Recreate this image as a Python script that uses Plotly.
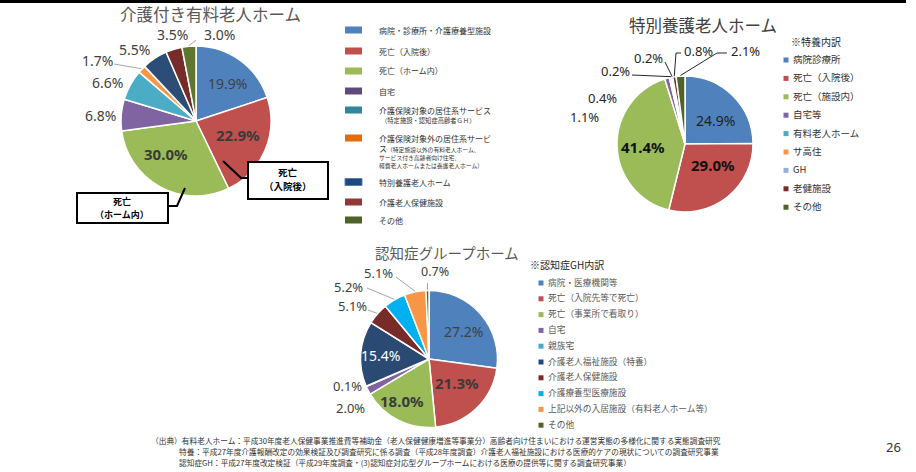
import math
import plotly.graph_objects as go

W, H = 916, 472
JP = "Noto Sans CJK JP"
NUM = "Noto Sans"

# ---------------- data ----------------
pie1_title = "介護付き有料老人ホーム"
pie1_labels = ["病院・診療所・介護療養型施設", "死亡（入院後）", "死亡（ホーム内）", "自宅",
               "介護保険対象の居住系サービス", "介護保険対象外の居住系サービス",
               "特別養護老人ホーム", "介護老人保健施設", "その他"]
pie1_values = [19.9, 22.9, 30.0, 6.8, 6.6, 1.7, 5.5, 3.5, 3.0]
pie1_colors = ["#4F81BD", "#C0504D", "#9BBB59", "#8064A2", "#4BACC6", "#F79646",
               "#2C4D75", "#772C2A", "#5F7530"]
leg1_colors = ["#4F81BD", "#C0504D", "#9BBB59", "#604A7B", "#31859C", "#E46C0A",
               "#1F497D", "#953735", "#4F6228"]

pie2_title = "特別養護老人ホーム"
pie2_legend_title = "※特養内訳"
pie2_labels = ["病院診療所", "死亡（入院後）", "死亡（施設内）", "自宅等", "有料老人ホーム",
               "サ高住", "GH", "老健施設", "その他"]
pie2_values = [24.9, 29.0, 41.4, 1.1, 0.4, 0.2, 0.2, 0.8, 2.1]
pie2_colors = ["#4F81BD", "#C0504D", "#9BBB59", "#8064A2", "#4BACC6", "#F79646",
               "#95B3D7", "#772C2A", "#4F6228"]

pie3_title = "認知症グループホーム"
pie3_legend_title = "※認知症GH内訳"
pie3_labels = ["病院・医療機関等", "死亡（入院先等で死亡）", "死亡（事業所で看取り）", "自宅", "親族宅",
               "介護老人福祉施設（特養）", "介護老人保健施設", "介護療養型医療施設",
               "上記以外の入居施設（有料老人ホーム等）", "その他"]
pie3_values = [27.2, 21.3, 18.0, 2.0, 0.1, 15.4, 5.1, 5.2, 5.1, 0.7]
pie3_colors = ["#4F81BD", "#C0504D", "#9BBB59", "#8064A2", "#4BACC6", "#2A4A73",
               "#772C2A", "#00B0F0", "#F79646", "#4F6228"]

footer_lines = [
    "（出典）有料老人ホーム：平成30年度老人保健事業推進費等補助金（老人保健健康増進等事業分）高齢者向け住まいにおける運営実態の多様化に関する実態調査研究",
    "特養：平成27年度介護報酬改定の効果検証及び調査研究に係る調査（平成28年度調査）介護老人福祉施設における医療的ケアの現状についての調査研究事業",
    "認知症GH：平成27年度改定検証（平成29年度調査・(3)認知症対応型グループホームにおける医療の提供等に関する調査研究事業）",
]
page_number = "26"

# ---------------- layout / style ----------------
pie1_geo = (196, 121, 75)
pie2_geo = (685, 144, 68)
pie3_geo = (429, 359, 68.5)

# label positions (px) and styles: (x, y, size, bold, color)
pie1_lab = [(227, 84, 14, False, "#404040"), (238, 135, 15, True, "#3A3A3A"),
            (166, 154, 15, True, "#3A3A3A"), (100, 115, 14, False, "#404040"),
            (107, 83, 14, False, "#404040"), (97, 60, 14, False, "#404040"),
            (134, 50, 14, False, "#404040"), (172, 34, 14, False, "#404040"),
            (219, 34, 14, False, "#404040")]
pie1_lead = {5: [(114, 64)], 8: [(196, 40)]}

pie2_lab = [(715, 120, 14, False, "#1F1F1F"), (713, 165, 15, True, "#111111"),
            (643, 147, 15, True, "#111111"), (584, 117, 13, False, "#262626"),
            (602, 98, 13, False, "#262626"), (615, 71, 13, False, "#262626"),
            (648, 58, 13, False, "#262626"), (698, 51, 13, False, "#262626"),
            (745, 51, 13, False, "#262626")]
pie2_lead = {5: [(632, 75)], 6: [(665, 62)], 7: [(681, 53), (676, 53)], 8: [(727, 53), (717, 53)]}

pie3_lab = [(463, 331, 14, False, "#404040"), (457, 383, 15, True, "#3A3A3A"),
            (402, 401, 15, True, "#3A3A3A"), (350, 408, 13, False, "#404040"),
            (347, 386, 13, False, "#404040"), (380, 355, 14, False, "#FFFFFF"),
            (352, 306, 13, False, "#404040"), (348, 287, 13, False, "#404040"),
            (378, 273, 13, False, "#404040"), (435, 271, 12.5, False, "#404040")]
pie3_lead = {6: [(368, 310)], 7: [(367, 288)], 8: [(396, 277)], 9: [(427.4, 283)]}

shapes, annotations = [], []


def X(x):
    return x / W


def Y(y):
    return 1 - y / H


def text(x, y, t, size, color, family=JP, bold=False, xanchor="center"):
    annotations.append(dict(x=X(x), y=Y(y), xref="paper", yref="paper",
                            text=f"<b>{t}</b>" if bold else t, showarrow=False,
                            font=dict(size=size, color=color, family=family),
                            xanchor=xanchor, yanchor="middle", borderpad=0))


def line(points, color, width):
    path = "M " + " L ".join(f"{X(px)},{Y(py)}" for px, py in points)
    shapes.append(dict(type="path", path=path, xref="paper", yref="paper",
                       line=dict(color=color, width=width)))


def rect(x0, y0, x1, y1, fill, lc=None, lw=0):
    shapes.append(dict(type="rect", xref="paper", yref="paper", x0=X(x0), x1=X(x1),
                       y0=Y(y1), y1=Y(y0), fillcolor=fill,
                       line=dict(color=lc or fill, width=lw)))


def slice_pt(values, i, geo, rf=1.0):
    cx, cy, r = geo
    ang = 360 * (sum(values[:i]) + values[i] / 2) / sum(values)
    a = math.radians(ang)
    return cx + rf * r * math.sin(a), cy - rf * r * math.cos(a)


def dom(geo):
    cx, cy, r = geo
    return dict(x=[X(cx - r), X(cx + r)], y=[Y(cy + r), Y(cy - r)])


fig = go.Figure()
for labels, values, colors, geo in [(pie1_labels, pie1_values, pie1_colors, pie1_geo),
                                    (pie2_labels, pie2_values, pie2_colors, pie2_geo),
                                    (pie3_labels, pie3_values, pie3_colors, pie3_geo)]:
    fig.add_trace(go.Pie(labels=labels, values=values, sort=False, direction="clockwise",
                         rotation=0, textinfo="none", showlegend=False,
                         marker=dict(colors=colors, line=dict(color="white", width=1.5)),
                         domain=dom(geo), hoverinfo="label+percent"))

# percentage labels + leader lines
for values, labs, leads, geo, lc in [(pie1_values, pie1_lab, pie1_lead, pie1_geo, "#A6A6A6"),
                                     (pie2_values, pie2_lab, pie2_lead, pie2_geo, "#262626"),
                                     (pie3_values, pie3_lab, pie3_lead, pie3_geo, "#A6A6A6")]:
    for i, v in enumerate(values):
        x, y, s, b, c = labs[i]
        text(x, y, f"{v:.1f}%", s, c, family=NUM, bold=b)
    for i, pts in leads.items():
        line(pts + [slice_pt(values, i, geo, 1.01)], lc, 1)

# titles
text(210, 14, pie1_title, 16.5, "#595959")
text(703, 25, pie2_title, 16.5, "#404040")
text(447, 252, pie3_title, 14.5, "#595959")

# callout boxes (pie 1)
line([(223, 161), (241, 178), (248, 178)], "#000000", 2)
rect(248, 162, 328, 199, "white", "#000000", 2)
text(288, 172, "死亡", 9.5, "#000000", bold=True)
text(288, 186, "（入院後）", 9.5, "#000000", bold=True)
line([(168, 206), (177, 206), (185, 188)], "#000000", 2)
rect(77, 193, 168, 223, "white", "#000000", 2)
text(122, 201, "死亡", 9, "#000000", bold=True)
text(122, 214.5, "（ホーム内）", 9, "#000000", bold=True)

# legend 1
leg1_text = ["病院・診療所・介護療養型施設", "死亡（入院後）", "死亡（ホーム内）", "自宅",
             "介護保険対象の居住系サービス", "介護保険対象外の居住系サービ",
             "特別養護老人ホーム", "介護老人保健施設", "その他"]
leg1_y = [30, 51, 71, 91, 110, 138, 182, 202, 220]
for t, c, y in zip(leg1_text, leg1_colors, leg1_y):
    rect(345, y - 3.5, 362, y + 3.5, c, "#4F81BD" if c == "#1F497D" else None, 1 if c == "#1F497D" else 0)
    text(378, y, t, 8, "#333333", xanchor="left")
text(380, 120, "（特定施設・認知症高齢者ＧＨ）", 6.3, "#333333", xanchor="left")
text(378, 148, "ス<span style='font-size:5.8px'>（特定施設以外の有料老人ホーム、</span>", 8, "#333333", xanchor="left")
text(378, 157, "サービス付き高齢者向け住宅、", 5.8, "#333333", xanchor="left")
text(378, 165, "軽費老人ホームまたは養護老人ホーム）", 5.8, "#333333", xanchor="left")

# legend 2
text(790, 42, pie2_legend_title, 10, "#262626", xanchor="left")
for i, (t, c) in enumerate(zip(pie2_labels, pie2_colors)):
    y = 59 + i * 18.4
    rect(783.5, y - 1.5, 788.5, y + 3.5, c)
    text(792, y, t, 9.5, "#333333", xanchor="left")

# legend 3
text(529, 264, pie3_legend_title, 10, "#262626", xanchor="left", bold=False)
for i, (t, c) in enumerate(zip(pie3_labels, pie3_colors)):
    y = 282 + i * 15.8
    rect(538.5, y - 1.5, 543.5, y + 3.5, "#1F497D" if c == "#2A4A73" else c)
    text(547, y, t, 8.7, "#595959", xanchor="left")

# footer
text(150, 440, footer_lines[0], 7.7, "#333333", xanchor="left")
text(178, 451, footer_lines[1], 7.7, "#333333", xanchor="left")
text(178, 462, footer_lines[2], 7.7, "#333333", xanchor="left")
text(893, 447, page_number, 13, "#333333", family=NUM)

# top rule
shapes.append(dict(type="line", xref="paper", yref="paper", x0=0, x1=X(906), y0=Y(1.5), y1=Y(1.5),
                   line=dict(color="#000000", width=3)))

fig.update_layout(width=W, height=H, margin=dict(l=0, r=0, t=0, b=0),
                  paper_bgcolor="white", plot_bgcolor="white", showlegend=False,
                  shapes=shapes, annotations=annotations)
fig.write_html("out.html")
